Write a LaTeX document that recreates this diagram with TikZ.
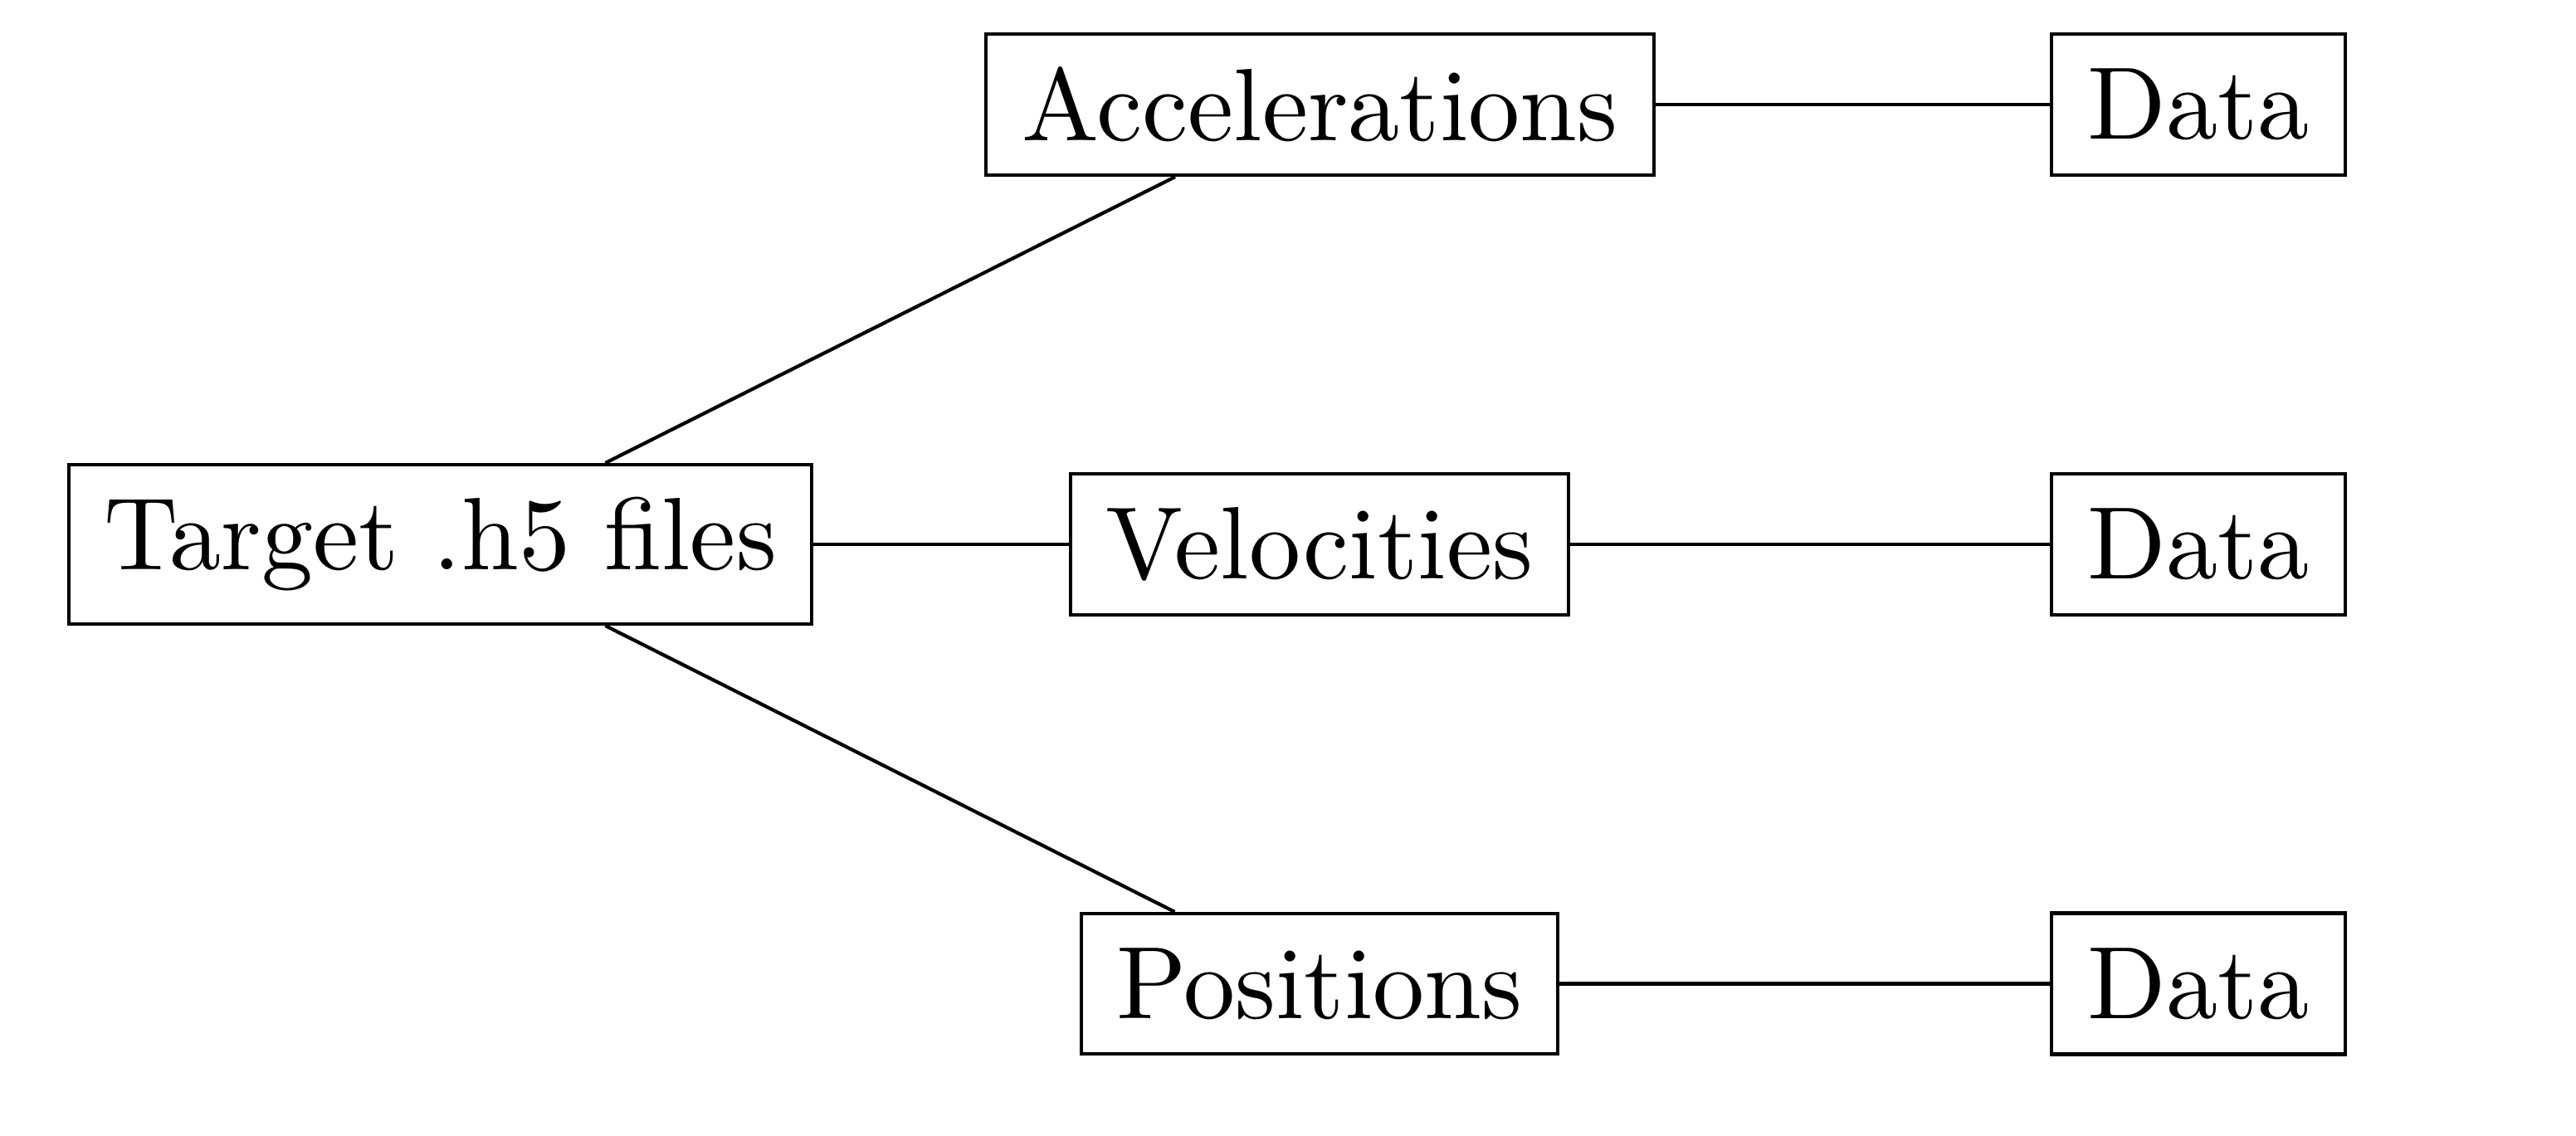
\documentclass[tikz,border=0pt]{standalone}
\usetikzlibrary{calc}
\newcommand{\bigtxt}[1]{\scalebox{3.53}{#1}}
\begin{document}
\begin{tikzpicture}[
  box/.style={draw, line width=1.2pt, inner sep=0pt, font=\fontsize{10}{12}\selectfont},
  link/.style={line width=1.2pt}
]
\useasboundingbox (0,0) rectangle (31.04,-13.69);
\node[box, minimum width=8.95cm, minimum height=1.92cm] (t) at (5.305,-6.56) {\bigtxt{Target .h5 files}};
\node[box, minimum width=8.05cm, minimum height=1.70cm] (acc) at (15.905,-1.26) {\bigtxt{Accelerations}};
\node[box, minimum width=6.00cm, minimum height=1.70cm] (vel) at (15.90,-6.56) {\bigtxt{Velocities}};
\node[box, minimum width=5.74cm, minimum height=1.69cm] (pos) at (15.90,-11.855) {\bigtxt{Positions}};
\node[box, minimum width=3.54cm, minimum height=1.70cm] (d1) at (26.49,-1.26) {\bigtxt{Data}};
\node[box, minimum width=3.54cm, minimum height=1.70cm] (d2) at (26.49,-6.56) {\bigtxt{Data}};
\node[box, minimum width=3.54cm, minimum height=1.70cm] (d3) at (26.49,-11.855) {\bigtxt{Data}};
\draw[link] ($(t.north)+(1.99,0)$) -- ($(acc.south)+(-1.745,0)$);
\draw[link] ($(t.south)+(1.99,0)$) -- ($(pos.north)+(-1.745,0)$);
\draw[link] (t.east) -- (vel.west);
\draw[link] (acc.east) -- (d1.west);
\draw[link] (vel.east) -- (d2.west);
\draw[link] (pos.east) -- (d3.west);
\end{tikzpicture}
\end{document}
